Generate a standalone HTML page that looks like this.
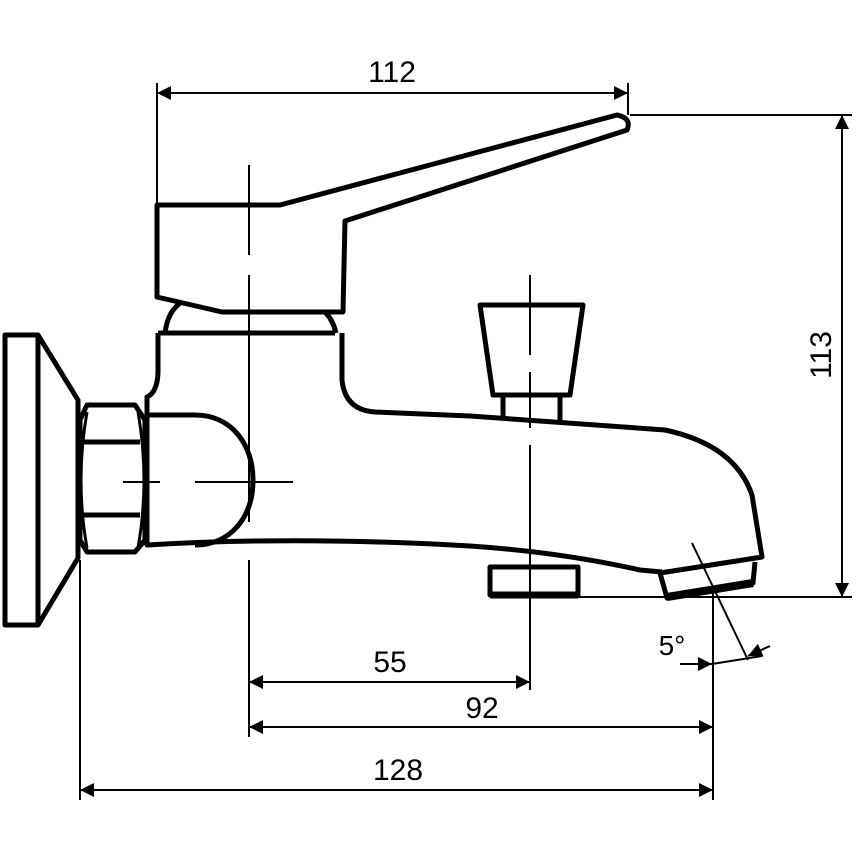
<!DOCTYPE html>
<html><head><style>html,body{margin:0;padding:0;background:#fff}svg{display:block}</style></head>
<body>
<svg width="856" height="856" viewBox="0 0 856 856" xmlns="http://www.w3.org/2000/svg">
<defs>
<marker id="a" viewBox="0 0 10 10" refX="10" refY="5" markerWidth="9" markerHeight="9" markerUnits="userSpaceOnUse" orient="auto-start-reverse"><path d="M0,0 L10,5 L0,10 z" fill="#000"/></marker>
<marker id="b" viewBox="0 0 10 10" refX="10" refY="5" markerWidth="18" markerHeight="14" orient="auto-start-reverse" markerUnits="userSpaceOnUse"><path d="M0,0 L10,5 L0,10 z" fill="#000"/></marker>
</defs>
<g fill="none" stroke="#000" stroke-linejoin="round">
<!-- dimension lines -->
<g stroke-width="2">
<line x1="157" y1="93" x2="628" y2="93" marker-start="url(#b)" marker-end="url(#b)"/>
<line x1="157" y1="83" x2="157" y2="205"/>
<line x1="628" y1="83" x2="628" y2="115"/>
<line x1="842" y1="115" x2="842" y2="597" marker-start="url(#b)" marker-end="url(#b)"/>
<line x1="630" y1="115" x2="852" y2="115"/>
<line x1="578" y1="597" x2="852" y2="597"/>
<line x1="249" y1="682" x2="530" y2="682" marker-start="url(#b)" marker-end="url(#b)"/>
<line x1="249" y1="727" x2="713" y2="727" marker-start="url(#b)" marker-end="url(#b)"/>
<line x1="80" y1="790" x2="713" y2="790" marker-start="url(#b)" marker-end="url(#b)"/>
<line x1="80" y1="560" x2="80" y2="800"/>
<line x1="249" y1="560" x2="249" y2="737"/>
<line x1="713" y1="590" x2="713" y2="800"/>
<line x1="530" y1="600" x2="530" y2="690"/>
<!-- center lines -->
<line x1="249" y1="165" x2="249" y2="255"/>
<line x1="249" y1="275" x2="249" y2="522"/>
<line x1="530" y1="275" x2="530" y2="355"/>
<line x1="530" y1="372" x2="530" y2="428"/>
<line x1="530" y1="445" x2="530" y2="600"/>
<line x1="123" y1="482" x2="160" y2="482"/>
<line x1="195" y1="482" x2="293" y2="482"/>
<!-- 5 degree -->
<line x1="692" y1="543" x2="748" y2="660"/>
<line x1="680" y1="664" x2="712" y2="664" marker-end="url(#b)"/>
<line x1="712" y1="664" x2="762" y2="656"/>
<line x1="770" y1="646" x2="748" y2="656" marker-end="url(#b)"/>
</g>
<!-- object outlines -->
<g stroke-width="5">
<rect x="5" y="335" width="33" height="290"/>
<path d="M38,335 L78,400 L78,558 L38,625"/>
<path d="M87,405 L135,405 L145,420 L145,540 L135,552 L87,552 L80,540 L80,420 Z"/>
<path d="M83,442 L140,442 M83,515 L140,515"/>
<path d="M87,412 Q75,480 87,548 M138,412 Q150,480 138,548" stroke-width="3"/>
<path d="M147,415 L195,415 C232,415 253,445 253,480 C253,518 230,545 195,545"/>
<path d="M158,333 L158,370 Q158,392 147,397 L147,545 Q300,536 470,546 Q560,552 640,570 L662,572"/>
<path d="M158,333 L335,333 M342,333 L342,380 Q345,410 375,412 L470,416 L665,430 Q735,445 752,495 L762,557 L660,573"/>
<path d="M660,573 L667,598 L753,583 L755,562"/>
<path d="M667,597 L753,583" stroke-width="8"/>
<path d="M165,333 Q168,310 182,302 M325,312 Q333,320 336,333"/>
<path d="M157,205 L280,205 L617,115 Q632,118 627,130 L345,221 L343,312 L222,312 L157,297 Z"/>
<path d="M480,305 L583,305 L570,395 L493,395 Z"/>
<path d="M503,395 L503,418 M560,395 L560,422"/>
<path d="M490,567 L578,567 L578,595 L490,595 Z"/>
<path d="M490,595 L578,595" stroke-width="7"/>
</g>
</g>
<g font-family="Liberation Sans, sans-serif" font-size="30" fill="#000" text-anchor="middle">
<text x="392" y="82">112</text>
<text x="390" y="672">55</text>
<text x="482" y="718">92</text>
<text x="398" y="780">128</text>
<text x="672" y="655" font-size="28">5°</text>
<text transform="translate(831,355) rotate(-90)">113</text>
</g>
</svg>
</body></html>
